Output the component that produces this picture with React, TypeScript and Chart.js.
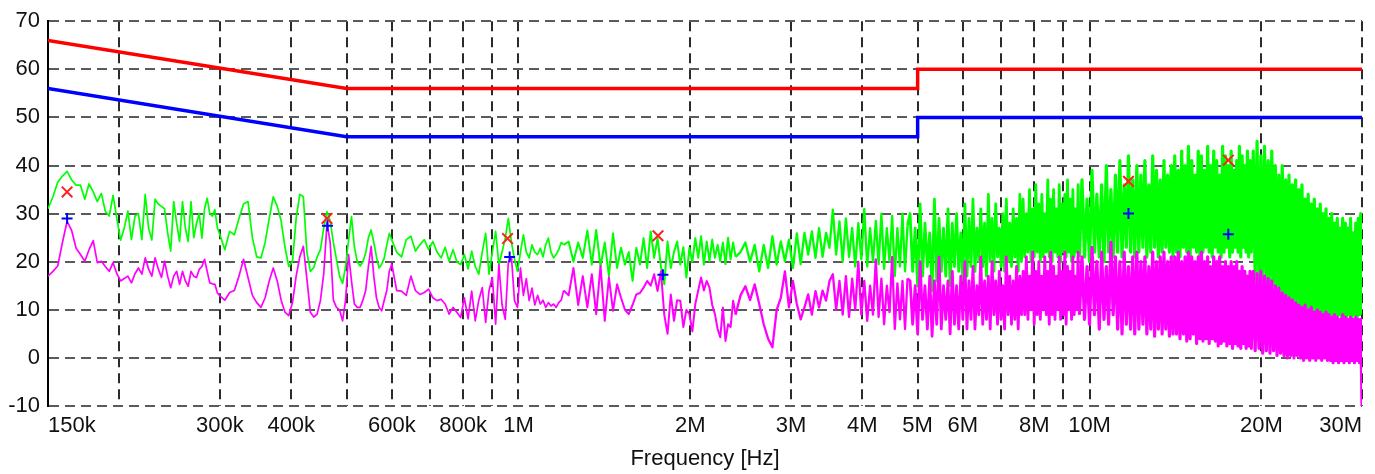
import React, { useEffect, useRef } from 'react';
import { Chart, registerables } from 'chart.js';

Chart.register(...registerables);

// ---- sweep frequencies (kHz), by band ----
const freqA = [150,153,156,159,162,165,168,171,174,177,180,183,186,189,192,195,198,201,204,207,210,213,216,219,222,225,228,231,234,237,240,243,246,249,252,255,258,261,264,267,270,273,276,279,282,285,288,291,294,297,300];
const freqB = [306,312,318,324,330,336,342,348,354,360,366,372,378,384,390,396,402,408,414,420,426,432,438,444,450,456,462,468,474,480,486,492,498,504,510,516,522,528,534,540,546,552,558,564,570,576,582,588,594,600];
const freqC = [612,624,636,648,660,672,684,696,708,720,732,744,756,768,780,792,804,816,828,840,852,864,876,888,900,912,924,936,948,960,972,984,996,1008,1020,1032,1044,1056,1068,1080,1092,1104,1116,1128,1140,1152,1164,1176,1188,1200];
const freqD = [1224,1248,1272,1296,1320,1344,1368,1392,1416,1440,1464,1488,1512,1536,1560,1584,1608,1632,1656,1680,1704,1728,1752,1776,1800,1824,1848,1872,1896,1920,1944,1968,1992,2016,2040,2064,2088,2112,2136,2160,2184,2208,2232,2256,2280,2304,2328,2352,2376,2400];
const freqE = [2448,2496,2544,2592,2640,2688,2736,2784,2832,2880,2928,2976,3024,3072,3120,3168,3216,3264,3312,3360,3408,3456,3504,3552,3600,3648,3696,3744,3792,3840,3888,3936,3984,4032,4080,4128,4176,4224,4272,4320,4368,4416,4464,4512,4560,4608,4656,4704,4752,4800];
const freqF = [4850,4900,4950,5000,5050,5100,5150,5200,5250,5300,5350,5400,5450,5500,5550,5600,5650,5700,5750,5800,5850,5900,5950,6000,6050,6100,
  6150,6200,6250,6300,6350,6400,6450,6500,6550,6600,6650,6700,6750,6800,6850,6900,6950,7000,7050,7100,7150,7200,7250,7300,7350,7400,7450,7500,7550,7600,
  7650,7700,7750,7800,7850,7900,7950,8000,8050,8100,8150,8200,8250,8300,8350,8400,8450,8500,8550,8600,8650,8700,8750,8800,8850,8900,8950,9000,9050,9100,9150,9200,9250,9300,9350,9400,9450,9500,9550,9600];
const freqG = [9700,9800,9900,10000,10100,10200,10300,10400,10500,10600,10700,10800,10900,11000,
  11100,11200,11300,11400,11500,11600,11700,11800,11900,12000,12100,12200,12300,12400,12500,12600,12700,12800,12900,13000,13100,13200,13300,13400,13500,13600,13700,13800,13900,14000,
  14100,14200,14300,14400,14500,14600,14700,14800,14900,15000,15100,15200,15300,15400,15500,15600,15700,15800,15900,16000,16100,16200,16300,16400,16500,16600,16700,16800,16900,17000,17100,17200,17300,17400,17500,17600,17700,17800,17900,18000,18100,18200,18300,18400,18500,18600,18700,18800,18900,19000,19100,19200];
const freqH = [19350,19500,19650,19800,19950,20100,20250,20400,20550,20700,20850,21000,
  21150,21300,21450,21600,21750,21900,22050,22200,22350,22500,22650,22800,22950,23100,
  23250,23400,23550,23700,23850,24000,24150,24300,24450,24600,24750,24900,25050,25200,25350,25500,25650,25800,25950,26100,
  26250,26400,26550,26700,26850,27000,27150,27300,27450,27600,27750,27900,28050,28200,28350,28500,28650,28800,28950,29100,29250,29400,29550,29700,29850,30000];

// ---- QP (green) trace, dBuV, by band ----
const qpA = [31,33.5,36.5,37.8,38.8,37,35.9,35.9,33,36.2,34.5,32.5,34.2,30.5,29.5,33.8,29,24.5,27,30.5,24.6,29.5,30,24.6,34,27,24.5,33,32,31.5,31,26,22.2,32.5,28,24.2,32.5,27,24.2,32.5,25,28,30,24.9,31,33.2,30,29.5,30.8,27,25.6];
const qpB = [22.5,26.3,25.6,29,32,32.5,25,21,20.8,24,29,33.5,31.5,28.5,23,19,20,29,34,33.5,22,18,18.8,21,22.5,27,30.4,28.5,24,20.5,17,15.5,19,24.5,29.4,23,20,19.1,20,21.8,25,26.6,24,21,18.7,19.5,20.8,23.5,25.9,24.5];
const qpC = [22,21,24.6,25.3,22.2,23.5,24.6,22.5,24.2,22,20.8,23,20.1,22.5,20,19.4,21.5,18.5,22.2,19,17.4,22,25.9,17.4,22,26.3,19.4,22,24.9,29,24,20.5,18,22,25.6,22,20.8,23.5,22,21.5,22.8,21,23.5,24.9,22,20.8,21.5,22.5,24,23.5];
const qpD = [24.2,20,24,20.8,26.5,19.4,26.6,19,24,17,25.9,18.7,22.9,19.4,22,16,22.9,19.4,24.9,18.7,26.3,20.8,24.9,19,15.3,24.2,18.7,22,24.2,19.4,23,16.7,22.9,20,24.9,20.8,25.3,19.4,24.2,20.1,24.6,20.8,23.5,20.1,24,19.5,25,20.5,24,21];
const qpE = [22,24,20,23.5,18,23.5,18.7,25.3,19.4,24.2,20.1,24.6,18.7,25.9,19.5,26,21.5,26.3,20.8,27,21,26,22.9,30.8,21.5,28.4,20,29,21,27,19,28,20.5,31,19,27,20,28.5,19.5,30,18.5,27,20,29.5,17,27,19,30,18,27.5];
const qpF = [30,18,27,15,32,17,28,19,26,14,33,16,29,18,27,17,31,15,28,19,30,18,26,16,32,17,
  29,19,33,18,27,20,31,19,28,17,34,20,29,18,32,21,27,19,30,18,33,20,28,19,31,21,29,18,34,20,
  33,21,30,22,35,20,31,21,36,22,32,20,34,21,30,22,37,21,33,20,35,22,31,21,36,20,32,22,34,21,37,22,33,20,35,21,31,22,36,21];
const qpG = [37,21,33,20,39,22,34,21,36,20,40,22,35,21,
  38,22,41,21,36,23,42,22,37,21,40,22,38,23,41,21,36,22,42,23,39,21,37,22,41,23,38,22,40,21,
  42,22,39,21,43,23,40,22,44,21,41,23,38,22,43,21,42,22,39,23,44,22,40,21,43,23,41,22,38,21,44,22,42,23,40,21,43,22,39,23,41,22,44,21,42,23,40,22,43,21,41,22];
const qpH = [43,16,45,15,42,16,44,15,41,14,43,15,
  40,13,38,12,40,13,37,12,38,11,36,12,37,11,
  35,10,36,9,33,10,34,9,32,10,33,9,31,8,32,9,30,8,31,9,
  29,8,30,9,28,8,29,9,27,8,29,9,28,8,27,9,29,8,26,9,28,8,29,9,30,9];

// ---- AV (magenta) trace, dBuV, by band ----
const avA = [17,18,19.1,24,28.4,26.5,22.8,21.5,20.1,22.5,24.4,19.8,20.1,19,18,19.8,17.5,16,16.5,17,15.6,17.5,18.7,17.4,20.8,18.5,17,20.8,18.5,16.7,20.1,17,14.6,17,18,15.3,18,16,14.9,18,17,16.7,18.4,19,20.5,18,15.6,15.4,15.3,13.5,12.9];
const avB = [12,13.6,14,17,20.5,16.7,13,11.5,10.5,12.5,16,18.7,16,12,9.5,8.8,11.5,17,21,23.2,16.5,9.5,8.5,9.1,12,17.5,28,24,12,10.5,10,7.7,12,21.5,16,11.2,10.5,10.5,12,14,19,23.2,17,12.5,10.5,9.8,12,14,18,19.5];
const avC = [14,13.9,13,17,14,13.2,13.6,14.3,12.5,11.9,12.2,11.2,9.1,10.5,9.5,8.4,12.5,8.1,13.9,7.7,12,14.6,7.4,14,16.7,7,19.4,11,8,20,21,11.9,10.5,18.7,13,16.5,11.9,14.5,11,13,11.2,12,10.5,11.5,10.8,11.2,10.5,11.5,12,14];
const avD = [13,18.7,11,17,10.5,17.4,9.1,19.1,7.7,16.7,9.8,15.3,12.5,10,9.1,11,13.2,13.5,14.6,16,15,17.4,13.9,18,9,5,13.2,7.7,12,11.9,6.4,10,9.1,5.5,11.2,14,16.7,14,16,14.6,11,9.1,6,4.3,10.5,3.5,7,6.4,11.9,9];
const avE = [13,14.9,12,15.3,11.2,7,4,2.2,10,12.5,18,10.5,16,11.2,8,10.5,13.2,9,13.9,10.5,14,11.9,16,17.4,10,16,9,17,8.5,16.5,10,20,9,16,7.7,15,9,20.5,8.5,16.5,7,15,9.5,21,6,15.5,8,16,6,16.5];
const avF = [16,7,15,5,20,8,15,6,17,4.5,16,7,21,6,15,8,16,5,18,7,15,6,17,8,20,6,
  16,8,19,6,15,9,21,7,16,8,17,6,20,9,16,7,18,8,15,6,21,9,17,7,16,8,19,6,17,9,
  18,9,21,8,17,10,22,7,18,9,20,8,17,10,21,9,18,7,22,9,19,8,17,10,21,8,18,9,22,7,19,10,18,8,21,9,17,10,22,9];
const avG = [21,8,19,7,23,9,20,6,22,8,19,7,24,9,
  21,6,20,5,22,7,19,6,21,5,22,6,20,7,21,5,19,6,22,4.5,20,6,21,5,22,6,20,4.5,21,5,
  21,5,22,4,20,5,21,3.5,22,4,21,5,20,3,21,4,22,3.5,20,4,21,3,19,4,21,3.5,20,2.5,21,3,19,3.5,20,2.5,19,3,20,2,19,3,20,2.5,18,2,19,3,18,2,17,2.5,18,2];
const avH = [18,1.5,17.5,2,18,1,17,1.5,16.5,1,16,1.5,
  15,0.5,14.5,1,13.5,0.5,13,0,12.5,0.5,12,0,11.5,0.5,
  11,0,10.5,-0.5,11,0,10,-0.5,10.5,0,9.5,-0.5,10,0,9.5,-0.5,9,0,9.5,-0.5,
  9,-0.5,8.5,-1,9,-0.5,8.5,-1,8,-0.5,9,-1,8.5,-0.5,8,-1,8.5,-0.5,8,-1,8.5,-0.5,8,-1,8,-10];

// ---- limits ----
const limitFreq = [150, 500, 5000, 5000, 30000];
const qpLimit = [66, 56, 56, 60, 60];
const avLimit = [56, 46, 46, 50, 50];

// ---- peak markers ----
const qpPeakFreq = [162, 462, 957, 1755, 11700, 17500];
const qpPeakLevel = [34.5, 29, 24.8, 25.4, 36.7, 41.1];
const avPeakFreq = [162, 463, 965, 1790, 11700, 17500];
const avPeakLevel = [29, 27.5, 21, 17.3, 30, 25.7];

// ---- axis ticks ----
const xTicks = [150, 200, 300, 400, 500, 600, 700, 800, 900, 1000, 2000, 3000, 4000, 5000, 6000, 7000, 8000, 9000, 10000, 20000, 30000];
const xTickLabels = ['150k', '', '300k', '400k', '', '600k', '', '800k', '', '1M', '2M', '3M', '4M', '5M', '6M', '', '8M', '', '10M', '20M', '30M'];
const yMin = -10;
const yMax = 70;
const yStep = 10;

const sweepFreq = [...freqA, ...freqB, ...freqC, ...freqD, ...freqE, ...freqF, ...freqG, ...freqH];
const qpTrace = [...qpA, ...qpB, ...qpC, ...qpD, ...qpE, ...qpF, ...qpG, ...qpH];
const avTrace = [...avA, ...avB, ...avC, ...avD, ...avE, ...avF, ...avG, ...avH];

const pts = (xs: number[], ys: number[]) => {
  const n = Math.min(xs.length, ys.length);
  const out: { x: number; y: number }[] = [];
  for (let i = 0; i < n; i++) out.push({ x: xs[i], y: ys[i] });
  return out;
};

// thicker strokes where the sweep is dense, so the band reads as solid
const traceWidth = (ctx: any) => {
  const f = ctx.p0.parsed.x;
  if (f >= 9600) return 3.2;
  if (f >= 4800) return 2.8;
  if (f >= 2400) return 2.3;
  if (f >= 1200) return 2.0;
  return 1.7;
};

const FONT = '"Liberation Sans", Arial, Helvetica, sans-serif';

export default function App() {
  const ref = useRef<HTMLCanvasElement | null>(null);

  useEffect(() => {
    if (!ref.current) return;
    const chart = new Chart(ref.current, {
      type: 'line',
      data: {
        datasets: [
          {
            label: 'QP peaks',
            data: pts(qpPeakFreq, qpPeakLevel),
            showLine: false,
            pointStyle: 'crossRot',
            pointRadius: 7.5,
            pointBorderWidth: 2,
            pointBorderColor: '#ff2020',
            borderColor: '#ff2020',
            backgroundColor: '#ff2020',
          },
          {
            label: 'AV peaks',
            data: pts(avPeakFreq, avPeakLevel),
            showLine: false,
            pointStyle: 'cross',
            pointRadius: 5.5,
            pointBorderWidth: 2,
            pointBorderColor: '#0000ff',
            borderColor: '#0000ff',
            backgroundColor: '#0000ff',
          },
          {
            label: 'AV',
            data: pts(sweepFreq, avTrace),
            borderColor: '#ff00ff',
            borderWidth: 1.7,
            borderJoinStyle: 'round',
            pointRadius: 0,
            segment: { borderWidth: traceWidth },
          },
          {
            label: 'QP',
            data: pts(sweepFreq, qpTrace),
            borderColor: '#00ff00',
            borderWidth: 1.7,
            borderJoinStyle: 'round',
            pointRadius: 0,
            segment: { borderWidth: traceWidth },
          },
          {
            label: 'AV limit',
            data: pts(limitFreq, avLimit),
            borderColor: '#0000ff',
            borderWidth: 3.5,
            pointRadius: 0,
          },
          {
            label: 'QP limit',
            data: pts(limitFreq, qpLimit),
            borderColor: '#ff0000',
            borderWidth: 3.5,
            pointRadius: 0,
          },
        ],
      },
      options: {
        animation: false,
        responsive: false,
        maintainAspectRatio: false,
        layout: { padding: { top: 18, right: 13, bottom: 0, left: 0 } },
        plugins: { legend: { display: false }, tooltip: { enabled: false } },
        elements: { line: { tension: 0 } },
        scales: {
          x: {
            type: 'logarithmic',
            min: 150,
            max: 30000,
            afterBuildTicks: (s: any) => {
              s.ticks = xTicks.map((v) => ({ value: v }));
            },
            afterFit: (s: any) => {
              s.height = 68;
            },
            ticks: {
              autoSkip: false,
              maxRotation: 0,
              minRotation: 0,
              align: 'inner',
              padding: 7,
              color: '#111',
              font: { family: FONT, size: 22 },
              callback: (_v: any, i: number) => xTickLabels[i] ?? '',
            },
            grid: { color: '#2a2a2a', lineWidth: 2, drawTicks: false },
            border: { display: false, dash: [10, 6] },
            title: {
              display: true,
              text: 'Frequency [Hz]',
              color: '#111',
              font: { family: FONT, size: 22 },
              padding: { top: 0, bottom: 2 },
            },
          },
          y: {
            min: yMin,
            max: yMax,
            afterFit: (s: any) => {
              s.width = 48;
            },
            ticks: {
              stepSize: yStep,
              padding: 8,
              color: '#111',
              font: { family: FONT, size: 22 },
            },
            grid: { color: '#5a5a5a', lineWidth: 2, drawTicks: false },
            border: { display: true, color: '#000', width: 2, dash: [10, 6] },
          },
        },
      } as any,
    });
    return () => chart.destroy();
  }, []);

  return (
    <div style={{ position: 'fixed', left: 0, top: 0, width: 1375, height: 474, background: '#fff' }}>
      <canvas ref={ref} width={1375} height={474} style={{ display: 'block', width: 1375, height: 474 }} />
    </div>
  );
}
